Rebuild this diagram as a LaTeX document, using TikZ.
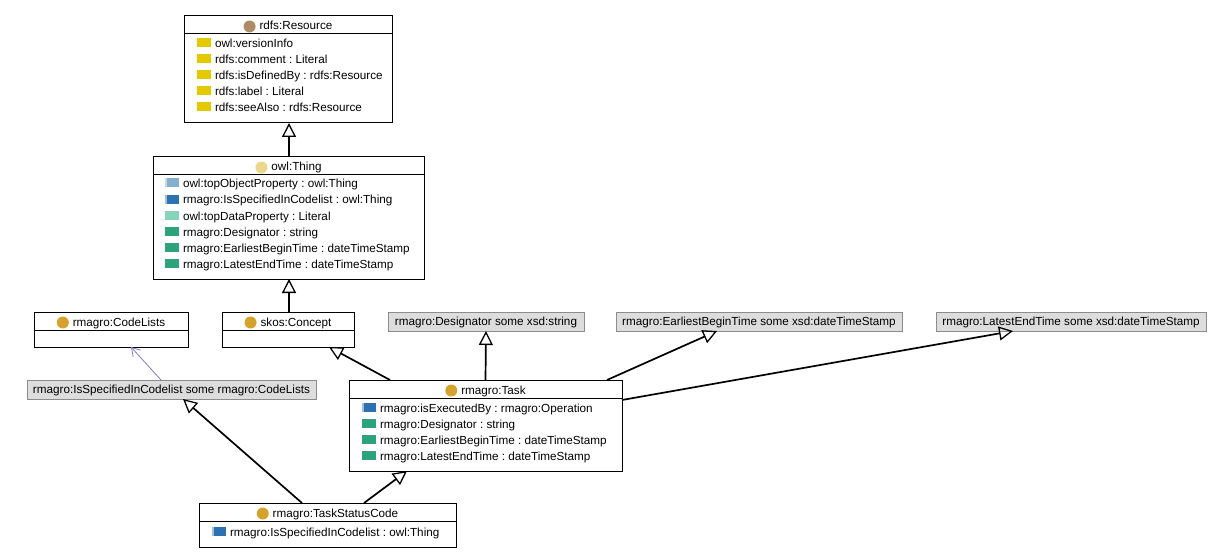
\documentclass[tikz,border=0pt]{standalone}
\usepackage{fontspec}
\setmainfont{Liberation Sans}
\usetikzlibrary{arrows.meta}
\frenchspacing
\definecolor{annot}{HTML}{E4C800}
\definecolor{cres}{HTML}{AC8B66}
\definecolor{cthing}{HTML}{EBD88A}
\definecolor{ccls}{HTML}{D6A22E}
\definecolor{otop}{HTML}{86AFCF}
\definecolor{oprop}{HTML}{2C72B0}
\definecolor{dtop}{HTML}{86D4BA}
\definecolor{dprop}{HTML}{2DA37C}
\definecolor{rfill}{HTML}{DDDDDD}
\definecolor{rgray}{HTML}{8C8C8C}
\definecolor{ablue}{HTML}{7C7CD8}
\newcommand{\fs}{\fontsize{11.7pt}{14pt}\selectfont\frenchspacing}
\newcommand{\hdot}[1]{\tikz[baseline=-3.5pt]\fill[#1] (0pt,0pt) circle (6pt);}
\newcommand{\prow}[5]{%
  \fill[#3] (#1,#2-4.5) rectangle (#1+14,#2+4.5);
  \node[txt] (#4) at (#1+18,#2) {#5};}
\newcommand{\orow}[5]{%
  \fill[#3] (#1,#2-4.5) rectangle (#1+14,#2+4.5);
  \fill[white!55!#3] (#1,#2-4.5) rectangle (#1+2,#2+4.5);
  \node[txt] (#4) at (#1+18,#2) {#5};}
\tikzset{
  cls/.style={draw=black, line width=1pt, fill=white, inner sep=0pt, outer sep=0pt},
  rst/.style={draw=rgray, fill=rfill, line width=1pt, inner sep=0pt, outer sep=0pt,
              font=\fs, text height=9.5pt, text depth=1pt},
  txt/.style={inner sep=0pt, outer sep=0pt, font=\fs, anchor=west, text height=10pt, text depth=0pt},
  hdr/.style={txt, anchor=center},
  gen/.style={line width=1.7pt, -{Triangle[open, width=14pt, length=14pt, line width=1.3pt]}},
  thinarr/.style={draw=ablue, line width=0.8pt, -{Straight Barb[length=8pt, width=10pt, line width=0.8pt]}},
  hline/.style={line width=1pt}
}
\begin{document}
\begin{tikzpicture}[x=1pt,y=-1pt]
\useasboundingbox[fill=white] (0,0) rectangle (1224,559);

% rdfs:Resource
\node[cls, minimum width=208pt, minimum height=107pt] (res) at (288,69.5) {};
\draw[hline] ([yshift=-18pt]res.north west) -- ([yshift=-18pt]res.north east);
\node[hdr] (res-t) at ([yshift=-9pt]res.north) {\hdot{cres}\hspace{4pt}rdfs:Resource};
\prow{197}{43}{annot}{res-1}{owl:versionInfo}
\prow{197}{59}{annot}{res-2}{rdfs:comment : Literal}
\prow{197}{75}{annot}{res-3}{rdfs:isDefinedBy : rdfs:Resource}
\prow{197}{91}{annot}{res-4}{rdfs:label : Literal}
\prow{197}{107}{annot}{res-5}{rdfs:seeAlso : rdfs:Resource}

% owl:Thing
\node[cls, minimum width=271pt, minimum height=122pt] (thing) at (288.5,218) {};
\draw[hline] ([yshift=-18pt]thing.north west) -- ([yshift=-18pt]thing.north east);
\node[hdr] (thing-t) at ([yshift=-9pt]thing.north) {\hdot{cthing}\hspace{4pt}owl:Thing};
\orow{165}{183}{otop}{thing-1}{owl:topObjectProperty : owl:Thing}
\orow{165}{199}{oprop}{thing-2}{rmagro:IsSpecifiedInCodelist : owl:Thing}
\prow{165}{215}{dtop}{thing-3}{owl:topDataProperty : Literal}
\prow{165}{231}{dprop}{thing-4}{rmagro:Designator : string}
\prow{165}{247}{dprop}{thing-5}{rmagro:EarliestBeginTime : dateTimeStamp}
\prow{165}{263}{dprop}{thing-6}{rmagro:LatestEndTime : dateTimeStamp}

% rmagro:CodeLists
\node[cls, minimum width=154pt, minimum height=35pt] (codel) at (111,329.5) {};
\draw[hline] ([yshift=-18pt]codel.north west) -- ([yshift=-18pt]codel.north east);
\node[hdr] (codel-t) at ([yshift=-9pt]codel.north) {\hdot{ccls}\hspace{4pt}rmagro:CodeLists};

% skos:Concept
\node[cls, minimum width=132pt, minimum height=35pt] (skos) at (288,329.5) {};
\draw[hline] ([yshift=-18pt]skos.north west) -- ([yshift=-18pt]skos.north east);
\node[hdr] (skos-t) at ([yshift=-9pt]skos.north) {\hdot{ccls}\hspace{4pt}skos:Concept};

% restrictions
\node[rst, minimum width=196pt, minimum height=19pt] (desig) at (486,321.5) {rmagro:Designator some xsd:string};
\node[rst, minimum width=286pt, minimum height=19pt] (ebt) at (759,321.5) {rmagro:EarliestBeginTime some xsd:dateTimeStamp};
\node[rst, minimum width=270pt, minimum height=19pt] (let) at (1071,321.5) {rmagro:LatestEndTime some xsd:dateTimeStamp};
\node[rst, minimum width=289pt, minimum height=19pt] (isspec) at (171.5,389.5) {rmagro:IsSpecifiedInCodelist some rmagro:CodeLists};

% rmagro:Task
\node[cls, minimum width=273pt, minimum height=91pt] (task) at (485.5,425.5) {};
\draw[hline] ([yshift=-18pt]task.north west) -- ([yshift=-18pt]task.north east);
\node[hdr] (task-t) at ([yshift=-9pt]task.north) {\hdot{ccls}\hspace{4pt}rmagro:Task};
\orow{362}{407}{oprop}{task-1}{rmagro:isExecutedBy : rmagro:Operation}
\prow{362}{423}{dprop}{task-2}{rmagro:Designator : string}
\prow{362}{439}{dprop}{task-3}{rmagro:EarliestBeginTime : dateTimeStamp}
\prow{362}{455}{dprop}{task-4}{rmagro:LatestEndTime : dateTimeStamp}

% rmagro:TaskStatusCode
\node[cls, minimum width=257pt, minimum height=44pt] (tsc) at (327.5,525) {};
\draw[hline] ([yshift=-18pt]tsc.north west) -- ([yshift=-18pt]tsc.north east);
\node[hdr] (tsc-t) at ([yshift=-9pt]tsc.north) {\hdot{ccls}\hspace{4pt}rmagro:TaskStatusCode};
\orow{212}{531}{oprop}{tsc-1}{rmagro:IsSpecifiedInCodelist : owl:Thing}

% connectors
\draw[gen] ([xshift=136pt]thing.north west) -- ([xshift=105pt]res.south west);
\draw[gen] ([xshift=67pt]skos.north west) -- ([xshift=136pt]thing.south west);
\draw[gen] ([xshift=41pt]task.north west) -- ([xshift=107pt]skos.south west);
\draw[gen] (task.north) -- (desig.south);
\draw[gen] ([xshift=258pt]task.north west) -- ([xshift=101pt]ebt.south west);
\draw[gen] ([yshift=-20pt]task.north east) -- ([xshift=77pt]let.south west);
\draw[gen] ([xshift=165pt]tsc.north west) -- ([xshift=58pt]task.south west);
\draw[gen] ([xshift=103pt]tsc.north west) -- ([xshift=156pt]isspec.south west);
\draw[thinarr] ([xshift=134pt]isspec.north west) -- ([xshift=97pt]codel.south west);
\end{tikzpicture}
\end{document}
